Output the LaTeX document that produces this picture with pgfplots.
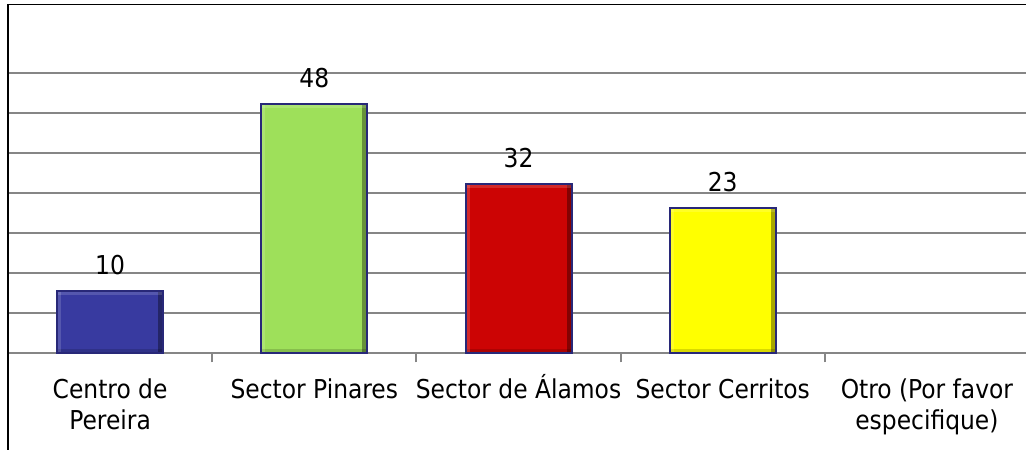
\documentclass[border=0pt]{standalone}
\usepackage{pgfplots}
\pgfplotsset{compat=1.18}
\usepackage{fontspec}
\setmainfont{DejaVu Sans Condensed}
\definecolor{cblue}{RGB}{56,58,160}
\definecolor{cgreen}{RGB}{158,224,90}
\definecolor{cred}{RGB}{204,4,4}
\definecolor{cyellow}{RGB}{255,255,0}
\definecolor{cedge}{RGB}{40,40,120}
\definecolor{cgrid}{RGB}{134,134,134}
\newcommand{\st}{\rule{0pt}{1.05em}}
\tikzset{bevel/.style={path picture={
  \fill[path picture={}, draw=none, black,opacity=0.35] ([xshift=-2.5pt]path picture bounding box.north east) rectangle (path picture bounding box.south east);
  \fill[path picture={}, draw=none, black,opacity=0.15] (path picture bounding box.south west) rectangle ([yshift=2pt]path picture bounding box.south east);
  \fill[path picture={}, draw=none, white,opacity=0.15] (path picture bounding box.north west) rectangle ([xshift=2pt]path picture bounding box.south west);
  \fill[path picture={}, draw=none, white,opacity=0.15] (path picture bounding box.north west) rectangle ([yshift=-2pt]path picture bounding box.north east);
}}}
\begin{document}
\begin{tikzpicture}[font=\fontsize{13pt}{15pt}\selectfont]
\useasboundingbox (-4pt,-47.85pt) rectangle (509pt,176.65pt);
\begin{axis}[
  at={(0,0)}, anchor=south west,
  scale only axis, width=510.5pt, height=174.5pt,
  xmin=-0.5, xmax=4.5, ymin=0, ymax=8.725,
  axis line style={draw=none},
  ybar, bar width=53pt, bar shift=0pt,
  xtick={0,...,4},
  xticklabels={{\st Centro de\\Pereira},{\st Sector Pinares},{\st Sector de Álamos},{\st Sector Cerritos},{\st Otro (Por favor\\especifique)}},
  xticklabel style={align=center, anchor=north, inner sep=0pt, yshift=-8.5pt, font=\fontsize{13pt}{15.5pt}\selectfont},
  major tick length=0pt,
  x tick style={cgrid, line width=1pt},
  extra x ticks={-0.5,0.5,1.5,2.5,3.5,4.5},
  extra x tick labels={},
  extra x tick style={major tick length=4.5pt, grid=none},
  xtick pos=lower, tick align=outside,
  ytick={0,...,7}, yticklabels={}, ymajorgrids,
  grid style={cgrid, line width=0.9pt},
  ytick style={draw=none},
  point meta=explicit symbolic,
  nodes near coords,
  nodes near coords style={anchor=south, inner sep=0pt, yshift=7.3pt, font=\fontsize{13pt}{15pt}\selectfont, text=black},
  clip=false,
]
\addplot[fill=cblue, draw=cedge, line width=1pt, bevel] coordinates {(0,1.56) [10]};
\addplot[fill=cgreen, draw=cedge, line width=1pt, bevel] coordinates {(1,6.24) [48]};
\addplot[fill=cred, draw=cedge, line width=1pt, bevel] coordinates {(2,4.24) [32]};
\addplot[fill=cyellow, draw=cedge, line width=1pt, bevel] coordinates {(3,3.64) [23]};
\end{axis}
\draw[black, line width=0.6pt] (0,-60pt) -- (0,174.5pt) -- (530pt,174.5pt);
\end{tikzpicture}
\end{document}
